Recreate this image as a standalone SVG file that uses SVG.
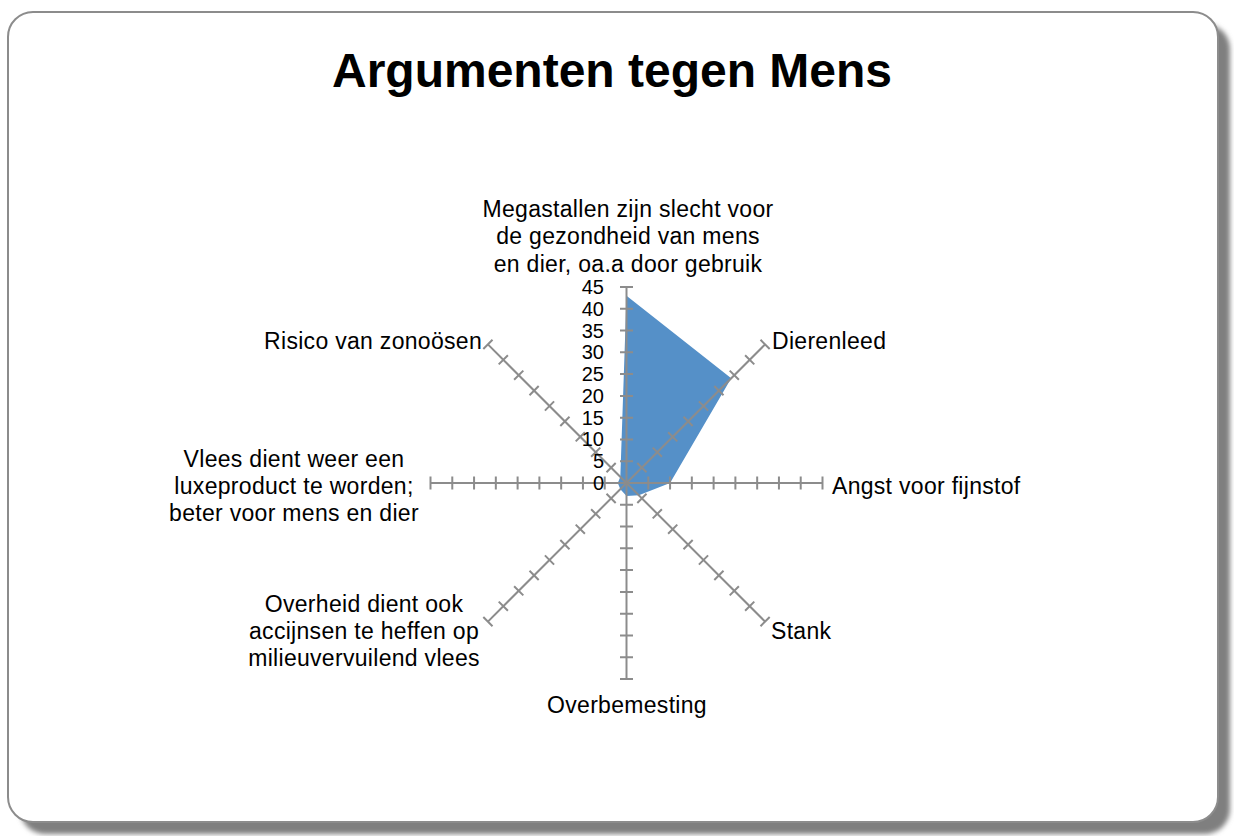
<svg xmlns="http://www.w3.org/2000/svg" xmlns:xlink="http://www.w3.org/1999/xlink" width="1234" height="836" viewBox="0 0 1234 836">
<style>
text{font-family:"Liberation Sans",Arial,sans-serif;fill:#000}
.lbl{font-size:23px;letter-spacing:0.3px}
.scale{font-size:20px;text-anchor:end}
.mid{text-anchor:middle}
.end{text-anchor:end}
.ax{stroke:#8c8c8c;stroke-width:2;fill:none}
</style>
<defs>
<filter id="blur" x="-5%" y="-5%" width="110%" height="110%"><feGaussianBlur stdDeviation="2.5"/></filter>
<g id="axis" class="ax">
<line x1="626.5" y1="483" x2="626.5" y2="287"/>
<path d="M620 461.22h13M620 439.44h13M620 417.67h13M620 395.89h13M620 374.11h13M620 352.33h13M620 330.56h13M620 308.78h13M620 287h13"/>
</g>
</defs>
<g id="frame">
<rect x="20" y="24" width="1210" height="810" rx="25" fill="#7f7f7f" filter="url(#blur)"/>
<rect x="8" y="12" width="1210" height="810" rx="25" fill="#fff" stroke="#8c8c8c" stroke-width="2"/>
</g>
<g id="title"><text x="612" y="87" class="mid" style="font-size:48px;font-weight:bold">Argumenten tegen Mens</text></g>
<g id="series"><polygon fill="#5590c8" points="626.5,295.71 731.21,378.29 670.06,483 638.82,495.32 626.5,496.07 620.34,489.16 617.79,483 620.34,476.84"/></g>
<g id="connectors">
<use xlink:href="#axis"/>
<use xlink:href="#axis" transform="rotate(45 626.5 483)"/>
<use xlink:href="#axis" transform="rotate(90 626.5 483)"/>
<use xlink:href="#axis" transform="rotate(135 626.5 483)"/>
<use xlink:href="#axis" transform="rotate(180 626.5 483)"/>
<use xlink:href="#axis" transform="rotate(225 626.5 483)"/>
<use xlink:href="#axis" transform="rotate(270 626.5 483)"/>
<use xlink:href="#axis" transform="rotate(315 626.5 483)"/>
</g>
<g id="scale" class="scale">
<text x="604" y="294">45</text>
<text x="604" y="315.8">40</text>
<text x="604" y="337.6">35</text>
<text x="604" y="359.3">30</text>
<text x="604" y="381.1">25</text>
<text x="604" y="402.9">20</text>
<text x="604" y="424.7">15</text>
<text x="604" y="446.4">10</text>
<text x="604" y="468.2">5</text>
<text x="604" y="490">0</text>
</g>
<g id="node-megastallen"><text class="mid lbl" x="628" y="217">Megastallen zijn slecht voor</text><text class="mid lbl" x="628" y="244">de gezondheid van mens</text><text class="mid lbl" x="628" y="272">en dier, oa.a door gebruik</text></g>
<g id="node-dierenleed"><text class="lbl" x="772" y="349">Dierenleed</text></g>
<g id="node-angst"><text class="lbl" x="832" y="494">Angst voor fijnstof</text></g>
<g id="node-stank"><text class="lbl" x="771" y="639">Stank</text></g>
<g id="node-overbemesting"><text class="lbl mid" x="627" y="713">Overbemesting</text></g>
<g id="node-overheid"><text class="lbl mid" x="364" y="612">Overheid dient ook</text><text class="lbl mid" x="364" y="639">accijnsen te heffen op</text><text class="lbl mid" x="364" y="666">milieuvervuilend vlees</text></g>
<g id="node-vlees"><text class="lbl mid" x="294" y="467">Vlees dient weer een</text><text class="lbl mid" x="294" y="494">luxeproduct te worden;</text><text class="lbl mid" x="294" y="521">beter voor mens en dier</text></g>
<g id="node-risico"><text class="lbl end" x="482" y="349">Risico van zonoösen</text></g>
</svg>
